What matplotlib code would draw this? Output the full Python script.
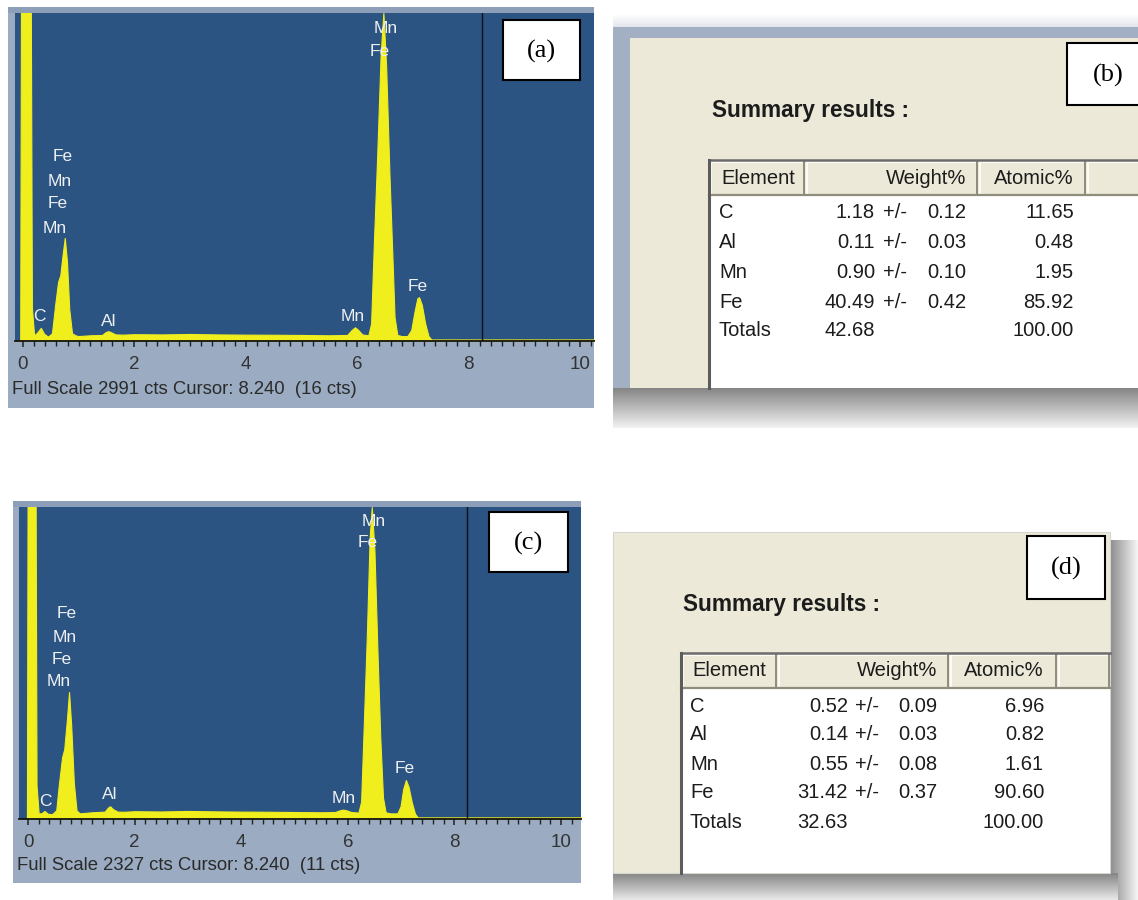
import numpy as np
import matplotlib
matplotlib.use('Agg')
import matplotlib.pyplot as plt
from matplotlib.patches import Rectangle
from matplotlib.ticker import MultipleLocator
from matplotlib.colors import to_rgb

plt.rcParams['font.family'] = ['Liberation Sans', 'DejaVu Sans']

W, H = 1138, 900

# EDS spectrum, sample 1 (keV, counts)
energy_a = [-0.2, -0.05, -0.03, 0.13, 0.16, 0.2, 0.26, 0.32, 0.38, 0.45, 0.52, 0.58, 0.63,
            0.67, 0.71, 0.75, 0.79, 0.83, 0.88, 0.95, 1.0, 1.2, 1.42, 1.48, 1.53, 1.58, 1.66,
            1.8, 2.0, 2.5, 3.0, 3.5, 4.0, 4.5, 5.0, 5.5, 5.82, 5.9, 5.96, 6.02, 6.09, 6.2,
            6.25, 6.3, 6.36, 6.42, 6.47, 6.52, 6.58, 6.63, 6.67, 6.72, 6.8, 6.9, 6.97, 7.03,
            7.08, 7.11, 7.16, 7.22, 7.28, 7.33, 8.0, 9.0, 10.4]
counts_a = [0, 0, 4500, 4500, 300, 50, 80, 120, 65, 40, 70, 340, 540,
            600, 780, 940, 720, 290, 70, 50, 45, 52, 55, 80, 90, 80, 60,
            58, 62, 60, 64, 60, 58, 57, 55, 52, 55, 100, 125, 100, 60, 52,
            160, 900, 1700, 2600, 2991, 2500, 1500, 800, 220, 55, 45, 45, 100, 270,
            390, 400, 330, 160, 45, 14, 14, 14, 14]

# EDS spectrum, sample 2 (keV, counts)
energy_c = [-0.2, -0.02, 0.0, 0.13, 0.16, 0.2, 0.26, 0.31, 0.37, 0.45, 0.53, 0.58, 0.64,
            0.68, 0.73, 0.77, 0.81, 0.86, 0.91, 0.97, 1.05, 1.2, 1.44, 1.5, 1.54, 1.59, 1.68,
            1.8, 2.0, 2.5, 3.0, 3.5, 4.0, 4.5, 5.0, 5.5, 5.76, 5.85, 5.91, 5.98, 6.06, 6.2,
            6.25, 6.3, 6.36, 6.41, 6.45, 6.5, 6.56, 6.61, 6.66, 6.71, 6.8, 6.93, 6.99, 7.04,
            7.09, 7.14, 7.2, 7.26, 7.31, 7.4, 8.0, 9.0, 10.4]
counts_c = [0, 0, 4000, 4000, 250, 40, 45, 60, 40, 35, 65, 260, 462,
            520, 740, 947, 700, 270, 65, 42, 45, 50, 55, 85, 95, 75, 55,
            54, 58, 56, 60, 57, 55, 54, 52, 50, 52, 65, 70, 64, 52, 48,
            130, 700, 1400, 2100, 2327, 2000, 1200, 600, 160, 50, 42, 42, 95, 225,
            291, 240, 125, 40, 12, 12, 12, 12, 12]

full_scale_a, full_scale_c = 2991, 2327
cursor_kev = 8.240
cursor_cts_a, cursor_cts_c = 16, 11
tick_kev = [0, 2, 4, 6, 8, 10]

# quantification results
elements = ['C', 'Al', 'Mn', 'Fe']
weight_b = [1.18, 0.11, 0.90, 40.49]
error_b = [0.12, 0.03, 0.10, 0.42]
atomic_b = [11.65, 0.48, 1.95, 85.92]
total_weight_b = 42.68
weight_d = [0.52, 0.14, 0.55, 31.42]
error_d = [0.09, 0.03, 0.08, 0.37]
atomic_d = [6.96, 0.82, 1.61, 90.60]
total_weight_d = 32.63
total_atomic = 100.00

BLUE = '#2b5483'
STRIP = '#9aabc2'
YELLOW = '#f0ee1c'
BEIGE = '#ece9d8'
INK = '#1c1c1c'

fig = plt.figure(figsize=(W / 100, H / 100), dpi=100)
fig.patch.set_facecolor('white')

canvas = fig.add_axes([0, 0, 1, 1], zorder=0)
top = fig.add_axes([0, 0, 1, 1], zorder=5)
for a in (canvas, top):
    a.set_xlim(0, W)
    a.set_ylim(H, 0)
    a.axis('off')
top.patch.set_alpha(0)


def px_axes(x0, y0, x1, y1, **kw):
    return fig.add_axes([x0 / W, 1 - y1 / H, (x1 - x0) / W, (y1 - y0) / H], **kw)


def shade(ax, x0, y0, x1, y1, c0, c1, horizontal=False, z=1):
    t = np.linspace(0, 1, 64)[:, None]
    g = np.array(to_rgb(c0)) * (1 - t) + np.array(to_rgb(c1)) * t
    img = g[None, :, :] if horizontal else g[:, None, :]
    ax.imshow(img, extent=(x0, x1, y1, y0), origin='upper', aspect='auto',
              interpolation='bilinear', zorder=z)


def tag_box(x0, y0, x1, y1, tag):
    top.add_patch(Rectangle((x0, y0), x1 - x0, y1 - y0, fc='white', ec='black', lw=1.5))
    top.text((x0 + x1) / 2, (y0 + y1) / 2 + 1, tag, ha='center', va='center',
             fontsize=19, family='Liberation Serif', color='black')


def spectrum(outer, blue, zero_px, px_kev, energy, counts, fs, cts, labels):
    ox0, oy0, ox1, oy1 = outer
    bx0, by0, bx1, by1 = blue
    canvas.add_patch(Rectangle((ox0, oy0), ox1 - ox0, oy1 - oy0, fc=STRIP, ec='none'))
    canvas.add_patch(Rectangle((ox0, oy0), ox1 - ox0, by0 - oy0, fc='#8d9fb8', ec='none'))
    ax = px_axes(bx0, by0, bx1, by1, zorder=2)
    ax.set_facecolor(BLUE)
    ax.fill_between(energy, counts, 0, color=YELLOW, lw=0.8, ec=YELLOW)
    ax.axvline(cursor_kev, color='#111111', lw=1.0)
    ax.set_xlim((bx0 - zero_px) / px_kev, (bx1 - zero_px) / px_kev)
    ax.set_ylim(0, fs)
    for s in ('top', 'left', 'right'):
        ax.spines[s].set_visible(False)
    ax.spines['bottom'].set_color('#111111')
    ax.spines['bottom'].set_linewidth(1.3)
    ax.set_yticks([])
    ax.set_xticks(tick_kev)
    ax.set_xticklabels([str(t) for t in tick_kev])
    ax.xaxis.set_minor_locator(MultipleLocator(0.2))
    ax.tick_params(axis='x', which='major', direction='out', length=4.5, width=1.1,
                   color='#222222', labelsize=13.5, labelcolor='#333333', pad=6)
    ax.tick_params(axis='x', which='minor', direction='out', length=3.5, width=1.0,
                   color='#222222')
    for txt, x, y in labels:
        ax.text(x, y, txt, ha='center', va='center', fontsize=12.5, color='#eef0f2',
                clip_on=False)
    canvas.text(ox0 + 4, oy1 - 18, 'Full Scale %d cts Cursor: %.3f  (%d cts)' % (fs, cursor_kev, cts),
                ha='left', va='center', fontsize=13.3, color='#2a2a2a', zorder=3)
    return ax


labels_a = [('Mn', 6.52, 2850), ('Fe', 6.41, 2640),
            ('Fe', 0.72, 1680), ('Mn', 0.66, 1450), ('Fe', 0.63, 1250), ('Mn', 0.57, 1030),
            ('C', 0.29, 220), ('Al', 1.53, 182), ('Mn', 5.92, 220), ('Fe', 7.09, 500)]
labels_c = [('Mn', 6.49, 2220), ('Fe', 6.38, 2060),
            ('Fe', 0.73, 1530), ('Mn', 0.68, 1357), ('Fe', 0.64, 1193), ('Mn', 0.58, 1022),
            ('C', 0.32, 127), ('Al', 1.54, 180), ('Mn', 5.93, 150), ('Fe', 7.07, 380)]

spectrum((8, 7, 594, 408), (15, 13, 594, 341), 23, 55.7, energy_a, counts_a,
         full_scale_a, cursor_cts_a, labels_a)
spectrum((13, 501, 581, 883), (19, 507, 581, 819), 28, 53.3, energy_c, counts_c,
         full_scale_c, cursor_cts_c, labels_c)
tag_box(503, 20, 580, 80, '(a)')
tag_box(489, 512, 568, 572, '(c)')


def table(left, top_y, head_y, seps, right, bottom, rows_y, col, weight, error, atomic, total_w):
    canvas.add_patch(Rectangle((left, head_y), right - left, bottom - head_y, fc='white', ec='none', zorder=2))
    edges = [left] + seps + [right]
    for x0, x1 in zip(edges[:-1], edges[1:]):
        canvas.add_patch(Rectangle((x0, top_y), x1 - x0, head_y - top_y, fc=BEIGE, ec='none', zorder=2))
        canvas.plot([x0 + 2, x1 - 2], [top_y + 2, top_y + 2], color='white', lw=1.2, zorder=3)
        canvas.plot([x0 + 2, x0 + 2], [top_y + 2, head_y - 2], color='white', lw=1.2, zorder=3)
        canvas.plot([x1 - 1, x1 - 1], [top_y + 2, head_y - 1], color='#8f8c7c', lw=1.4, zorder=3)
    canvas.plot([left, right], [head_y - 1, head_y - 1], color='#8f8c7c', lw=1.6, zorder=3)
    canvas.plot([left, right], [top_y, top_y], color='#6c6c6c', lw=1.8, zorder=3)
    canvas.plot([left, left], [top_y, bottom], color='#5c5c5c', lw=2.2, zorder=3)

    hy = (top_y + head_y) / 2
    kw = dict(va='center', fontsize=14.5, color=INK, zorder=4)
    canvas.text(col['elem'] + 2, hy, 'Element', ha='left', **kw)
    canvas.text(col['err'], hy, 'Weight%', ha='right', **kw)
    canvas.text(col['atom'], hy, 'Atomic%', ha='right', **kw)
    for i, el in enumerate(elements):
        y = rows_y[i]
        canvas.text(col['elem'], y, el, ha='left', **kw)
        canvas.text(col['wt'], y, '%.2f' % weight[i], ha='right', **kw)
        canvas.text(col['pm'], y, '+/-', ha='left', **kw)
        canvas.text(col['err'], y, '%.2f' % error[i], ha='right', **kw)
        canvas.text(col['atom'], y, '%.2f' % atomic[i], ha='right', **kw)
    y = rows_y[-1]
    canvas.text(col['elem'], y, 'Totals', ha='left', **kw)
    canvas.text(col['tot'], y, '%.2f' % total_w, ha='left', **kw)
    canvas.text(col['atom'], y, '%.2f' % total_atomic, ha='right', **kw)


# panel (b): results window
shade(canvas, 613, 14, W, 27, '#ffffff', '#e2e6ec')
canvas.add_patch(Rectangle((613, 27), W - 613, 388 - 27, fc='#a3b0c3', ec='none', zorder=1))
canvas.add_patch(Rectangle((630, 38), W - 630, 388 - 38, fc=BEIGE, ec='none', zorder=1))
shade(canvas, 613, 388, W, 428, '#858585', '#f2f2f2')
canvas.text(712, 110, 'Summary results :', ha='left', va='center', fontsize=16.3,
            fontweight='bold', color=INK, zorder=4)
table(709, 160, 196, [805, 978, 1086], W + 5, 388, [213, 242, 272, 302, 331],
      dict(elem=719, wt=875, pm=883, err=966, atom=1074, tot=825),
      weight_b, error_b, atomic_b, total_weight_b)
tag_box(1067, 43, 1150, 105, '(b)')

# panel (d): results window
shade(canvas, 1110, 540, W, 900, '#8c8c8c', '#f6f6f6', horizontal=True)
shade(canvas, 613, 873, 1118, 900, '#858585', '#e8e8e8')
canvas.add_patch(Rectangle((613, 532), 1110 - 613, 873 - 532, fc=BEIGE, ec='#d6d6d0', lw=0.8, zorder=1))
canvas.text(683, 605, 'Summary results :', ha='left', va='center', fontsize=16.3,
            fontweight='bold', color=INK, zorder=4)
table(681, 653, 689, [777, 949, 1057], 1110, 873, [706, 735, 764, 793, 823],
      dict(elem=690, wt=848, pm=855, err=937, atom=1044, tot=797),
      weight_d, error_d, atomic_d, total_weight_d)
tag_box(1027, 536, 1105, 599, '(d)')

canvas.set_xlim(0, W)
canvas.set_ylim(H, 0)

fig.savefig('out.png', dpi=100, facecolor='white')
